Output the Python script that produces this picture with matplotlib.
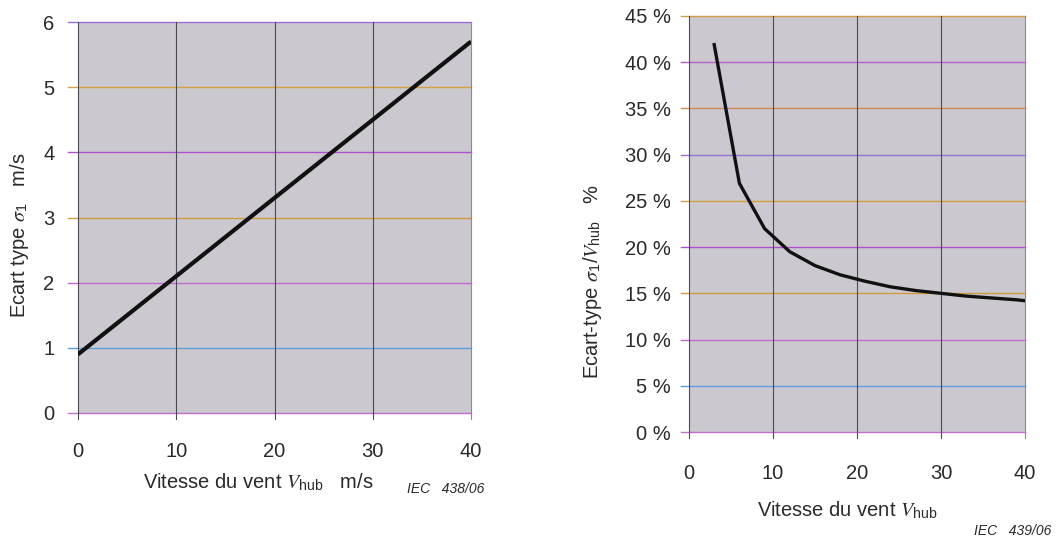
import numpy as np
import matplotlib
matplotlib.use("Agg")
import matplotlib.pyplot as plt

plt.rcParams['font.family'] = ['Liberation Sans', 'DejaVu Sans']
plt.rcParams['mathtext.fontset'] = 'custom'
plt.rcParams['mathtext.rm'] = 'Liberation Sans'
plt.rcParams['mathtext.it'] = 'STIXGeneral:italic'

# left panel: standard deviation sigma1 vs hub wind speed
v_left = [0, 40]
sigma_left = [0.9, 5.7]

# right panel: sigma1 / V_hub in percent
v_right = [3, 6, 9, 12, 15, 18, 21, 24, 27, 30, 33, 36, 39, 40]
ratio_right = [41.9, 26.9, 22.0, 19.5, 18.0, 17.0, 16.3, 15.7, 15.3, 15.0, 14.7, 14.5, 14.3, 14.2]

x_ticks = [0, 10, 20, 30, 40]
y_ticks_left = [0, 1, 2, 3, 4, 5, 6]
y_ticks_right = [0, 5, 10, 15, 20, 25, 30, 35, 40, 45]
y_labels_right = ['%d %%' % t for t in y_ticks_right]

bg = '#ccc8d0'
txt = '#2a2a2a'
hcols = ['#c070c8', '#5aa0d8', '#c06ad0', '#d09a40', '#b050d0', '#d0a040', '#9a70d8',
         '#d08a50', '#b060c8', '#c8a040']

W, H = 1059, 539
fig = plt.figure(figsize=(W / 100, H / 100), dpi=100)


def px(x0, y0, x1, y1):
    return [x0 / W, 1 - y1 / H, (x1 - x0) / W, (y1 - y0) / H]


def style(ax, yt, ylim):
    ax.set_facecolor(bg)
    ax.set_xlim(0, 40)
    ax.set_ylim(*ylim)
    ax.set_xticks(x_ticks)
    ax.set_yticks(yt)
    for i, t in enumerate(yt):
        ax.plot([-0.025, 1], [t, t], transform=ax.get_yaxis_transform(),
                color=hcols[i % len(hcols)], lw=1.0, clip_on=False, zorder=1)
    for t in x_ticks:
        ax.plot([t, t], [-0.015, 1], transform=ax.get_xaxis_transform(),
                color='#4a4a55' if t < 40 else '#8a8a95', lw=0.8, clip_on=False, zorder=1)
    for s in ax.spines.values():
        s.set_visible(False)
    ax.tick_params(length=0, labelsize=14.5, colors=txt)


ax1 = fig.add_axes(px(78, 22, 471, 413))
style(ax1, y_ticks_left, (0, 6))
ax1.plot(v_left, sigma_left, color='#111111', lw=3.0, zorder=3, solid_capstyle='butt')
ax1.tick_params(axis='x', pad=21)
ax1.tick_params(axis='y', pad=17)

ax2 = fig.add_axes(px(689, 16, 1025, 432))
style(ax2, y_ticks_right, (0, 45))
ax2.set_yticklabels(y_labels_right)
ax2.plot(v_right, ratio_right, color='#111111', lw=2.4, zorder=3)
ax2.tick_params(axis='x', pad=23)
ax2.tick_params(axis='y', pad=13)

fig.text(258 / W, 1 - 482 / H, r'Vitesse du vent $V_{\rm hub}$   m/s', ha='center', va='center',
         fontsize=14.5, color=txt)
fig.text(407 / W, 1 - 489 / H, 'IEC   438/06', ha='left', va='center', fontsize=10,
         style='italic', color=txt)
fig.text(20 / W, 1 - 235 / H, r'Ecart type $\sigma_1$   m/s', rotation=90, ha='center', va='center',
         fontsize=14.5, color=txt)

fig.text(847 / W, 1 - 510 / H, r'Vitesse du vent $V_{\rm hub}$', ha='center', va='center',
         fontsize=14.5, color=txt)
fig.text(1051 / W, 1 - 531 / H, 'IEC   439/06', ha='right', va='center', fontsize=10,
         style='italic', color=txt)
fig.text(593 / W, 1 - 282 / H, r'Ecart-type $\sigma_1/V_{\rm hub}$   %', rotation=90, ha='center',
         va='center', fontsize=14.5, color=txt)

fig.savefig('out.png', dpi=100, facecolor='white')
